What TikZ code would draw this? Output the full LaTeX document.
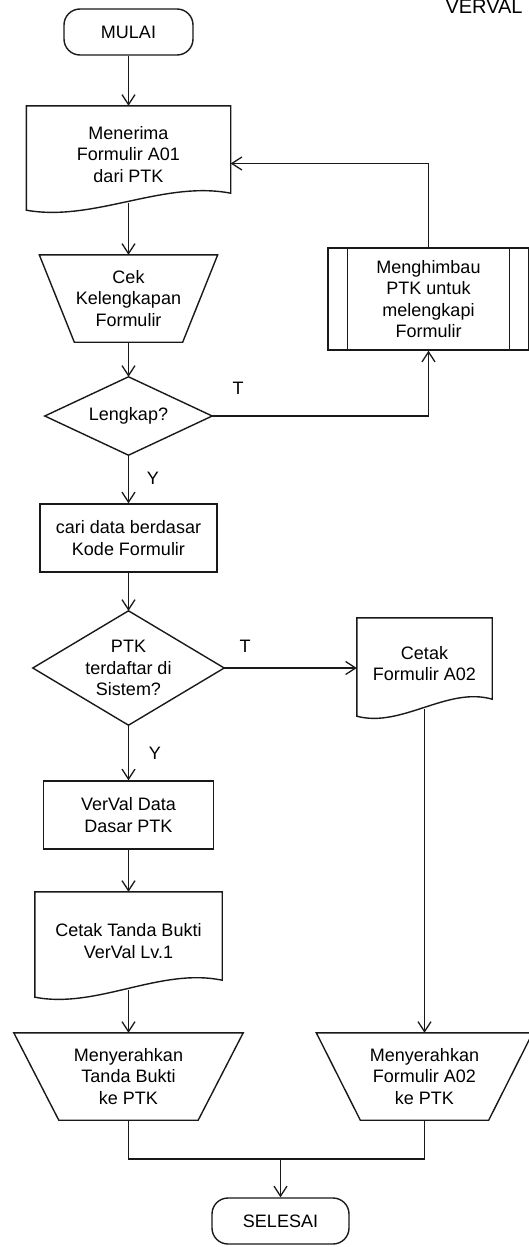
\documentclass[tikz,border=0pt]{standalone}
\usepackage{fontspec}
\setmainfont{Liberation Sans}
\usetikzlibrary{arrows.meta,calc}

% outlines drawn round plain nodes
\newcommand{\docline}[1]{%
  \draw[ln] (#1.north west) -- (#1.north east) -- ($(#1.south east)+(0,-10)$)
    .. controls ($(#1.south east)!0.33!(#1.south west)+(0,-23)$) and ($(#1.south east)!0.67!(#1.south west)+(0,19)$) .. ($(#1.south west)+(0,7)$) -- cycle;}
\newcommand{\trapline}[2]{%
  \draw[ln] (#1.north west) -- (#1.north east) -- ($(#1.south east)+(-#2,0)$) -- ($(#1.south west)+(#2,0)$) -- cycle;}
\newcommand{\diamline}[1]{%
  \draw[ln] (#1.north) -- (#1.east) -- (#1.south) -- (#1.west) -- cycle;}

\begin{document}
\begin{tikzpicture}[x=1pt,y=-1pt,
  every node/.style={font=\fontsize{18}{21.5}\selectfont},
  ln/.style={line width=1.4pt,draw=black!90},
  arr/.style={ln,-{Straight Barb[length=10pt,width=13pt,line width=1.3pt]}},
  blank/.style={inner sep=0pt,align=center},
  box/.style={ln,inner sep=0pt,align=center},
  term/.style={ln,rounded corners=16pt,minimum height=46pt,inner sep=0pt},
  lbl/.style={inner sep=0pt}]
\useasboundingbox (0,0) rectangle (528,1247);

\node[anchor=base west,font=\fontsize{20}{24}\selectfont] (judul) at (442,13.5) {VERVAL};

\node[term,minimum width=129pt] (mulai) at (128.5,32) {MULAI};
\node[blank,minimum width=204pt,minimum height=97pt] (terima) at (128.5,154.5) {Menerima\\Formulir A01\\dari PTK};
\node[blank,minimum width=178pt,minimum height=87pt] (cek) at (128.5,298.5) {Cek\\Kelengkapan\\Formulir};
\node[blank,minimum width=167pt,minimum height=78pt] (lengkap) at (128.5,416) {Lengkap?};
\node[box,minimum width=177pt,minimum height=68pt] (cari) at (128.5,538) {cari data berdasar\\Kode Formulir};
\node[box,minimum width=201pt,minimum height=102pt] (himbau) at (428.5,299) {Menghimbau\\PTK untuk\\melengkapi\\Formulir};
\node[blank,minimum width=191pt,minimum height=114pt] (ptk) at (128.5,668) {PTK\\terdaftar di\\Sistem?};
\node[blank,minimum width=135pt,minimum height=91pt] (cetak) at (424.5,663.5) {Cetak\\Formulir A02};
\node[box,minimum width=170pt,minimum height=68pt] (verval) at (128.5,815) {VerVal Data\\Dasar PTK};
\node[blank,minimum width=187pt,minimum height=98pt] (bukti) at (128.5,941) {Cetak Tanda Bukti\\VerVal Lv.1};
\node[blank,minimum width=229pt,minimum height=87pt] (serahbukti) at (128.5,1076.5) {Menyerahkan\\Tanda Bukti\\ke PTK};
\node[blank,minimum width=216pt,minimum height=87pt] (serahform) at (424.5,1076.5) {Menyerahkan\\Formulir A02\\ke PTK};
\node[term,minimum width=137pt] (selesai) at (280.5,1221) {SELESAI};

\node[lbl] (t1) at (238,388) {T};
\node[lbl] (y1) at (153,478) {Y};
\node[lbl] (t2) at (245,646) {T};
\node[lbl] (y2) at (155,753) {Y};

\docline{terima}
\docline{cetak}
\docline{bukti}
\trapline{cek}{35}
\trapline{serahbukti}{45}
\trapline{serahform}{44}
\diamline{lengkap}
\diamline{ptk}
\draw[ln] ($(himbau.north west)+(20,0)$) -- ($(himbau.south west)+(20,0)$);
\draw[ln] ($(himbau.north east)+(-20,0)$) -- ($(himbau.south east)+(-20,0)$);

\coordinate (gabung) at (280.5,1159);

\draw[arr] (mulai.south) -- (terima.north);
\draw[arr] (terima.south) -- (cek.north);
\draw[arr] (cek.south) -- (lengkap.north);
\draw[arr] (lengkap.east) -| (himbau.south);
\draw[arr] (himbau.north) |- ($(terima.east)+(0,9)$);
\draw[arr] (lengkap.south) -- (cari.north);
\draw[arr] (cari.south) -- (ptk.north);
\draw[arr] (ptk.east) -- (ptk.east -| cetak.west);
\draw[arr] (ptk.south) -- (verval.north);
\draw[arr] (verval.south) -- (bukti.north);
\draw[arr] (bukti.south) -- (serahbukti.north);
\draw[arr] (cetak.south) -- (serahform.north);
\draw[ln] (serahbukti.south) |- (gabung) -| (serahform.south);
\draw[arr] (gabung) -- (selesai.north);
\end{tikzpicture}
\end{document}
